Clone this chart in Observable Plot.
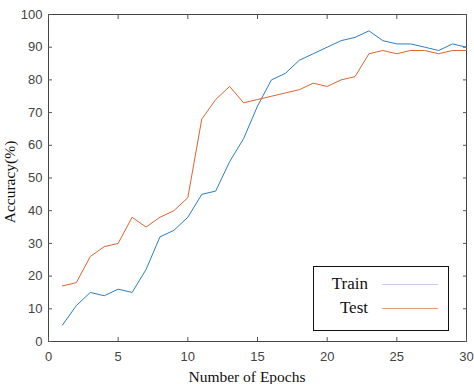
<!DOCTYPE html>
<html>
<head>
<meta charset="utf-8">
<script src="https://cdn.jsdelivr.net/npm/d3@7"></script>
<script src="https://cdn.jsdelivr.net/npm/@observablehq/plot@0.6"></script>
<style>
  html, body { margin: 0; padding: 0; background: #fff; }
  #chart { position: relative; width: 474px; height: 384px; }
  .legend {
    position: absolute; left: 313px; top: 266px; width: 134px; height: 63px;
    border: 1.5px solid #111; background: #fff;
    font-family: "Liberation Serif", "Times New Roman", serif; font-size: 17px; color: #111;
  }
  .legend .row { position: absolute; left: 0; width: 100%; height: 20px; }
  .legend .lab { position: absolute; right: 80px; top: 0; line-height: 20px; }
  .legend .sw { position: absolute; left: 68px; width: 56px; top: 10px; height: 0; border-top: 1.2px solid; }
</style>
</head>
<body>
<div id="chart"></div>
<script>
// Training and test accuracy (%) per epoch
const epochs = d3.range(1, 31);
const trainAcc = [5, 11, 15, 14, 16, 15, 22, 32, 34, 38, 45, 46, 55, 62, 72, 80, 82, 86, 88, 90, 92, 93, 95, 92, 91, 91, 90, 89, 91, 90];
const testAcc = [17, 18, 26, 29, 30, 38, 35, 38, 40, 44, 68, 74, 78, 73, 74, 75, 76, 77, 79, 78, 80, 81, 88, 89, 88, 89, 89, 88, 89, 89];
const seriesNames = ["Train", "Test"];
const seriesColors = ["#2a7fc0", "#dc6430"];
const legendColors = ["#c6cce9", "#e39c6c"];
const xTicks = [0, 5, 10, 15, 20, 25, 30];
const yTicks = [0, 10, 20, 30, 40, 50, 60, 70, 80, 90, 100];

const rows = [
  ...epochs.map((e, i) => ({epoch: e, acc: trainAcc[i], series: seriesNames[0]})),
  ...epochs.map((e, i) => ({epoch: e, acc: testAcc[i], series: seriesNames[1]}))
];

const tickColor = "#555";
const labelFont = {fontFamily: "Liberation Sans, Arial, sans-serif", fontSize: 13, fill: "#444"};

const plot = Plot.plot({
  width: 474,
  height: 384,
  marginLeft: 48,
  marginRight: 8,
  marginTop: 14,
  marginBottom: 43,
  style: {background: "#fff", overflow: "visible"},
  x: {domain: [0, 30]},
  y: {domain: [0, 100]},
  color: {domain: seriesNames, range: seriesColors},
  marks: [
    Plot.frame({stroke: "#444", strokeWidth: 1}),
    // inward ticks on all four sides
    Plot.axisX(xTicks, {anchor: "bottom", tickSize: -4, tickPadding: 14, stroke: tickColor, ...labelFont, label: null}),
    Plot.axisX(xTicks, {anchor: "top", tickSize: -4, text: null, stroke: tickColor, label: null}),
    Plot.axisY(yTicks, {anchor: "left", tickSize: -4, tickPadding: 10, stroke: tickColor, ...labelFont, label: null}),
    Plot.axisY(yTicks, {anchor: "right", tickSize: -4, text: null, stroke: tickColor, label: null}),
    Plot.line(rows, {x: "epoch", y: "acc", z: "series", stroke: "series", strokeWidth: 1})
  ]
});

const holder = document.getElementById("chart");
holder.appendChild(plot);

// axis titles in a serif face
const svg = d3.select(plot);
svg.append("text")
  .attr("x", 247).attr("y", 382)
  .attr("text-anchor", "middle")
  .attr("font-family", "Liberation Serif, Times New Roman, serif")
  .attr("font-size", 15.5).attr("fill", "#111")
  .text("Number of Epochs");
svg.append("text")
  .attr("transform", "translate(15,182) rotate(-90)")
  .attr("text-anchor", "middle")
  .attr("font-family", "Liberation Serif, Times New Roman, serif")
  .attr("font-size", 15.5).attr("fill", "#111")
  .text("Accuracy(%)");

// legend box inside the plot area
const legend = document.createElement("div");
legend.className = "legend";
seriesNames.forEach((name, i) => {
  const row = document.createElement("div");
  row.className = "row";
  row.style.top = (7 + i * 24) + "px";
  const lab = document.createElement("span");
  lab.className = "lab";
  lab.textContent = name;
  const sw = document.createElement("span");
  sw.className = "sw";
  sw.style.borderTopColor = legendColors[i];
  row.appendChild(lab);
  row.appendChild(sw);
  legend.appendChild(row);
});
holder.appendChild(legend);
</script>
</body>
</html>
